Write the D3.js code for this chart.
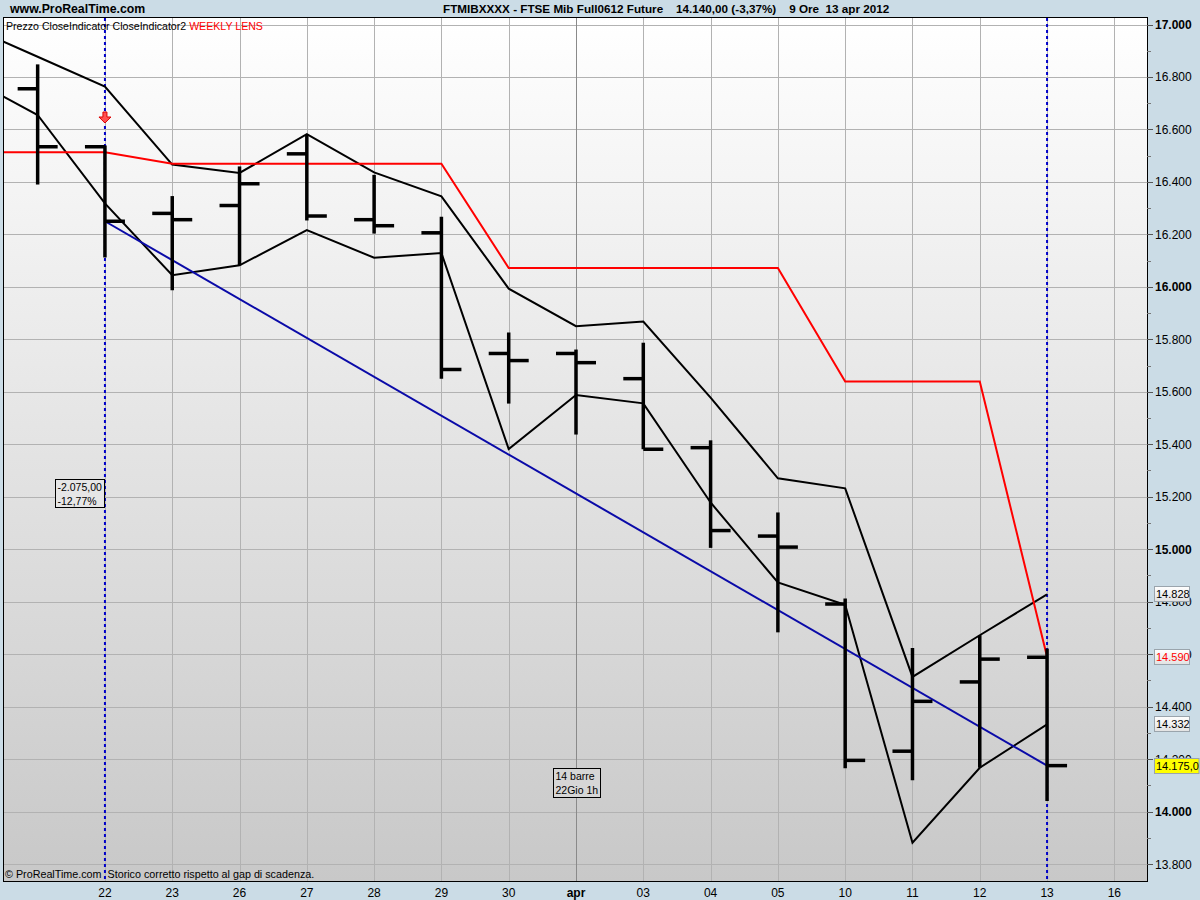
<!DOCTYPE html>
<html><head><meta charset="utf-8">
<script src="https://cdn.jsdelivr.net/npm/d3@7"></script>
<style>
html,body{margin:0;padding:0;background:#cbdce6;}
svg{display:block;font-family:"Liberation Sans",Arial,sans-serif;}
</style></head>
<body>
<svg id="chart" width="1200" height="900"></svg>
<script>
// ---- data ----
const dates = ["20","21","22","23","26","27","28","29","30","apr","03","04","05","10","11","12","13","16"];
const tickLabels = ["22","23","26","27","28","29","30","apr","03","04","05","10","11","12","13","16"];
const barDates = ["21","22","23","26","27","28","29","30","apr","03","04","05","10","11","12","13"];
const opens  = [16755,16534,16280,16310,16507,16256,16206,15746,15746,15650,15387,15050,14791,14230,14494,14588];
const highs  = [16848,16539,16346,16459,16581,16427,16267,15826,15761,15787,15415,15140,14812,14623,14672,14621];
const lows   = [16390,16112,15987,16082,16253,16203,15650,15555,15437,15381,15005,14683,14165,14119,14167,14040];
const closes = [16534,16250,16256,16393,16270,16233,15685,15719,15711,15381,15071,15008,14195,14420,14581,14175];
// line indicators, one value per entry of dates[0..16]
const upperLine = [16990,16877,16763,16466,16434,16582,16436,16345,15993,15850,15868,15578,15270,15232,14513,14672,14828];
const lowerLine = [16793,16655,16318,16044,16082,16216,16111,16129,15382,15588,15556,15178,14873,14788,13881,14167,14332];
const weeklyLens = [16513,16513,16513,16469,16469,16469,16469,16469,16072,16072,16072,16072,16072,15639,15639,15639,14590];
const trendDates = ["22","13"];
const trendValues = [16250,14175];
const yTicks = d3.range(13800, 17001, 200);
const yMinor = d3.range(13900, 17000, 200);
const valueTags = [
  {v:14828, text:"14.828", color:"#000", fill:"#f2f2f2"},
  {v:14590, text:"14.590", color:"#ff0000", fill:"#f2f2f2"},
  {v:14332, text:"14.332", color:"#000", fill:"#f2f2f2"},
  {v:14175, text:"14.175,0", color:"#000", fill:"#ffff00"}
];

// ---- layout ----
const svg = d3.select("#chart");
const L = 4, R = 1147, T = 18, B = 881;
const x = d3.scaleLinear().domain([0.5, 17.5]).range([L, 1148]);
const xd = d => x(dates.indexOf(d));
const y = d3.scaleLinear().domain([13800, 17000]).range([864, 24.5]);
const loc = d3.formatLocale({decimal:",", thousands:".", grouping:[3], currency:["",""]});
const fmt = loc.format(",.0f");

// background
svg.append("rect").attr("width",1200).attr("height",900).attr("fill","#cbdce6");
const defs = svg.append("defs");
const grad = defs.append("linearGradient").attr("id","bg").attr("x1",0).attr("y1",0).attr("x2",0).attr("y2",1);
grad.append("stop").attr("offset","0%").attr("stop-color","#ffffff");
grad.append("stop").attr("offset","100%").attr("stop-color","#c8c8c8");
const tg = defs.append("linearGradient").attr("id","tag").attr("x1",0).attr("y1",0).attr("x2",0).attr("y2",1);
tg.append("stop").attr("offset","0%").attr("stop-color","#ffffff");
tg.append("stop").attr("offset","100%").attr("stop-color","#e2e2e2");
defs.append("clipPath").attr("id","clip").append("rect").attr("x",L).attr("y",T).attr("width",R-L).attr("height",B-T);

svg.append("rect").attr("x",L).attr("y",T).attr("width",R-L).attr("height",B-T).attr("fill","url(#bg)");

// grid
const grid = svg.append("g").attr("clip-path","url(#clip)");
grid.selectAll("line.h").data(yTicks).join("line")
  .attr("x1",L).attr("x2",R).attr("y1",d=>Math.round(y(d))+0.5).attr("y2",d=>Math.round(y(d))+0.5)
  .attr("stroke","#b2b2b2").attr("stroke-width",1);
grid.selectAll("line.v").data(tickLabels).join("line")
  .attr("x1",d=>Math.round(xd(d))+0.5).attr("x2",d=>Math.round(xd(d))+0.5).attr("y1",T).attr("y2",B)
  .attr("stroke",d=>d==="apr"?"#8a8a8a":"#b2b2b2").attr("stroke-width",1);

// plot content
const g = svg.append("g").attr("clip-path","url(#clip)");
const lineGen = d3.line().x((d,i)=>x(i)).y(d=>y(d));

// blue dotted verticals
g.selectAll("line.dv").data(trendDates).join("line")
  .attr("x1",d=>xd(d)).attr("x2",d=>xd(d)).attr("y1",T).attr("y2",B)
  .attr("stroke","#0000c8").attr("stroke-width",2).attr("stroke-dasharray","3,3");

g.append("path").datum(upperLine).attr("d",lineGen).attr("fill","none").attr("stroke","#000").attr("stroke-width",2);
g.append("path").datum(lowerLine).attr("d",lineGen).attr("fill","none").attr("stroke","#000").attr("stroke-width",2);
g.append("path").datum(weeklyLens).attr("d",lineGen).attr("fill","none").attr("stroke","#ff0000").attr("stroke-width",2);
g.append("path").datum(trendValues).attr("d",d3.line().x((d,i)=>xd(trendDates[i])).y(d=>y(d)))
  .attr("fill","none").attr("stroke","#0a0aa8").attr("stroke-width",2);

// OHLC bars
const bars = g.selectAll("g.bar").data(barDates).join("g");
bars.append("line").attr("x1",d=>xd(d)).attr("x2",d=>xd(d))
  .attr("y1",(d,i)=>y(highs[i])).attr("y2",(d,i)=>y(lows[i])).attr("stroke","#000").attr("stroke-width",3.5);
bars.append("line").attr("x1",d=>xd(d)-20).attr("x2",d=>xd(d))
  .attr("y1",(d,i)=>y(opens[i])).attr("y2",(d,i)=>y(opens[i])).attr("stroke","#000").attr("stroke-width",3.5);
bars.append("line").attr("x1",d=>xd(d)).attr("x2",d=>xd(d)+20)
  .attr("y1",(d,i)=>y(closes[i])).attr("y2",(d,i)=>y(closes[i])).attr("stroke","#000").attr("stroke-width",3.5);

// red arrow marker above the 22 bar
const ax = xd("22");
svg.append("path")
  .attr("d",`M${ax-2},112 L${ax+2},112 L${ax+2},117 L${ax+6},117 L${ax},123 L${ax-6},117 L${ax-2},117 Z`)
  .attr("fill","#ff5050").attr("stroke","#dd0000").attr("stroke-width",1);

// frame
svg.append("rect").attr("x",L-0.5).attr("y",T-0.5).attr("width",R-L+1).attr("height",B-T+1)
  .attr("fill","none").attr("stroke","#000").attr("stroke-width",1);

// y axis
const yAxis = svg.append("g");
yAxis.selectAll("line.mj").data(yTicks).join("line")
  .attr("x1",R).attr("x2",R+6).attr("y1",d=>Math.round(y(d))+0.5).attr("y2",d=>Math.round(y(d))+0.5)
  .attr("stroke","#555");
yAxis.selectAll("line.mn").data(yMinor).join("line")
  .attr("x1",R).attr("x2",R+4).attr("y1",d=>Math.round(y(d))+0.5).attr("y2",d=>Math.round(y(d))+0.5)
  .attr("stroke","#777");
yAxis.selectAll("text").data(yTicks).join("text")
  .attr("x",1155).attr("y",d=>y(d)+4.5).attr("font-size",12)
  .attr("font-weight",d=>d%1000===0?"bold":"normal").attr("fill","#000").text(d=>fmt(d));

// x axis labels
svg.selectAll("text.xl").data(tickLabels).join("text")
  .attr("x",d=>xd(d)).attr("y",897).attr("text-anchor","middle").attr("font-size",12)
  .attr("font-weight",d=>d==="apr"?"bold":"normal").text(d=>d);

// value tags on right axis
const tags = svg.selectAll("g.tag").data(valueTags).join("g");
tags.append("rect").attr("x",1154.5).attr("y",d=>Math.round(y(d.v))-7.5)
  .attr("width",d=>d.text.length>6?44.5:35).attr("height",15)
  .attr("fill",d=>d.fill==="#ffff00"?"#ffff00":"url(#tag)").attr("stroke","#9aa4ac");
tags.append("text").attr("x",1156).attr("y",d=>Math.round(y(d.v))+4).attr("font-size",11)
  .attr("fill",d=>d.color).text(d=>d.text);

// header
svg.append("text").attr("x",10).attr("y",13).attr("font-size",12.3).attr("font-weight","bold").text("www.ProRealTime.com");
svg.append("text").attr("x",443).attr("y",13).attr("font-size",11.7).attr("font-weight","bold")
  .style("white-space","pre").text("FTMIBXXXX - FTSE Mib Full0612 Future    14.140,00 (-3,37%)    9 Ore  13 apr 2012");

// legend
const leg = svg.append("text").attr("x",6).attr("y",30).attr("font-size",10.6);
leg.append("tspan").attr("fill","#000").text("Prezzo CloseIndicator CloseIndicator2 ");
leg.append("tspan").attr("fill","#ff0000").text("WEEKLY LENS");

// footer
svg.append("text").attr("x",5).attr("y",878).attr("font-size",10.75).style("white-space","pre")
  .text("\u00A9 ProRealTime.com  Storico corretto rispetto al gap di scadenza.");

// annotation boxes
function box(x0,y0,w,h,lines,fill){
  svg.append("rect").attr("x",x0+0.5).attr("y",y0+0.5).attr("width",w).attr("height",h)
    .attr("fill",fill).attr("stroke","#000");
  lines.forEach((t,i)=>svg.append("text").attr("x",x0+2.5).attr("y",y0+12+i*14).attr("font-size",10.5).text(t));
}
box(55,479,49,28,["-2.075,00","-12,77%"],"#e6e6e6");
box(553,768,47,29,["14 barre","22Gio 1h"],"#d6d6d6");
</script>
</body></html>
